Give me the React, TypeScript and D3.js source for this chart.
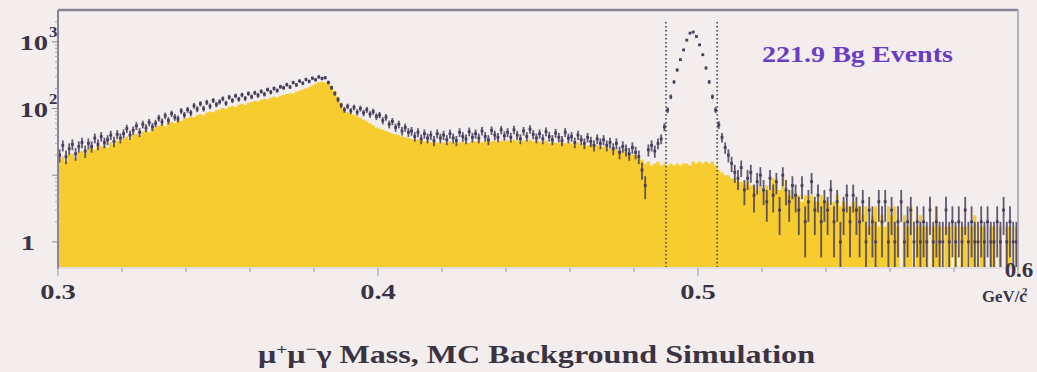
import React from "react";
import * as d3 from "d3";

const W = 1037;
const H = 372;

// Invariant mass histogram: 0.300 – 0.600 GeV/c², bins of 0.001
const massMin = 0.3;
const massMax = 0.6;
const binWidth = 0.001;

// MC background (yellow histogram), one value per bin
const bgCounts = [
  17, 19, 16, 20, 21, 18, 22, 23, 21, 25,
  26, 24, 28, 27, 30, 26, 31, 29, 33, 32,
  35, 38, 34, 40, 42, 39, 45, 47, 44, 50,
  52, 55, 58, 54, 61, 63, 60, 67, 65, 70,
  72, 76, 74, 80, 83, 79, 87, 90, 88, 95,
  97, 102, 99, 106, 110, 105, 114, 118, 113, 122,
  125, 130, 127, 134, 140, 136, 145, 150, 146, 155,
  160, 165, 170, 168, 178, 185, 192, 200, 210, 222,
  235, 248, 252, 245, 238, 215, 185, 150, 120, 95,
  88, 84, 80, 76, 72, 68, 64, 60, 56, 52,
  50, 48, 46, 44, 42, 41, 40, 38, 37, 36,
  35, 34, 34, 33, 32, 33, 31, 32, 31, 30,
  31, 30, 32, 31, 30, 31, 32, 30, 31, 32,
  32, 33, 31, 32, 34, 32, 33, 31, 33, 32,
  33, 32, 34, 33, 31, 33, 32, 34, 32, 33,
  32, 31, 33, 30, 32, 31, 30, 32, 30, 31,
  30, 29, 31, 28, 29, 28, 30, 27, 28, 27,
  27, 26, 25, 26, 24, 23, 24, 22, 21, 20,
  20, 18, 17, 15, 16, 14, 15, 16, 14, 15,
  14, 15, 14, 15, 14, 15, 15, 14, 16, 15,
  16, 15, 16, 15, 16, 14, 12, 11, 10, 10,
  9, 9, 8, 8, 7, 8, 7, 7, 6, 7,
  6, 7, 6, 9, 8, 6, 9, 6, 5, 6,
  5, 5, 4, 5, 4, 5, 4, 4, 5, 4,
  4, 3.4, 4, 5, 3.4, 4, 3.4, 3.4, 4, 3.4,
  3.4, 2.5, 3.4, 1.7, 2.5, 3.4, 1.7, 2.5, 1.7, 3.4,
  2.5, 3.4, 1.7, 0, 2.5, 1.7, 3.4, 0, 1.7, 2.5,
  1.7, 1.7, 0, 1.7, 3.4, 1.7, 0, 1.7, 1.7, 0,
  1.7, 0, 1.7, 1.7, 0, 1.7, 2.5, 0, 1.7, 1.7,
  0, 1.7, 1.7, 0, 1.7, 0, 1.7, 1.7, 0, 1.7,
];

// Simulated events (points with error bars), one value per bin
const dataCounts = [
  20, 28, 19, 25, 29, 21, 27, 31, 23, 30,
  27, 36, 29, 38, 31, 34, 40, 32, 41, 36,
  42, 50, 40, 47, 55, 44, 58, 51, 62, 53,
  60, 72, 63, 78, 66, 84, 74, 70, 92, 80,
  96, 86, 110, 98, 118, 100, 124, 108, 132, 115,
  126, 140, 120, 148, 132, 155, 138, 160, 142, 168,
  150, 172, 158, 180, 164, 192, 176, 200, 186, 212,
  205, 228, 210, 245, 226, 258, 240, 272, 255, 285,
  270, 298, 282, 290, 246, 205, 168, 136, 112, 96,
  108, 92, 104, 88, 100, 86, 96, 82, 90, 76,
  80, 66, 74, 58, 64, 52, 58, 46, 52, 44,
  46, 38, 44, 35, 42, 36, 40, 33, 42, 36,
  40, 34, 42, 36, 33, 44, 38, 35, 45, 37,
  42, 36, 46, 38, 34, 47, 40, 37, 48, 39,
  44, 37, 48, 40, 35, 46, 38, 49, 41, 36,
  42, 35, 45, 38, 34, 43, 37, 33, 44, 36,
  38, 31, 40, 34, 30, 37, 32, 28, 35, 30,
  34, 28, 31, 25, 30, 22, 27, 24, 21, 26,
  22, 19, 12, 7, 24, 28, 23, 30, 35, 53,
  95, 150, 250, 378, 540, 755, 1060, 1350, 1400, 1200,
  900, 640, 405, 250, 150, 95, 57, 37, 26, 20,
  15, 11, 9, 13, 6, 9, 11, 5, 8, 10,
  6, 4, 9, 5, 8, 3, 10, 6, 4, 7,
  5, 3, 7, 2, 4, 8, 3, 5, 2, 4,
  3, 6, 2, 4, 1, 3, 5, 2, 5, 3,
  2, 4, 1, 3, 2, 1, 4, 2, 4, 1,
  3, 1, 2, 4, 1, 2, 3, 1, 2, 1,
  2, 1, 3, 1, 2, 1, 1, 3, 1, 2,
  1, 2, 1, 3, 1, 2, 1, 1, 2, 1,
  2, 1, 1, 2, 1, 3, 1, 2, 1, 1,
];

const xLabelValues = [0.3, 0.4, 0.5];
const xLabelTexts = ["0.3", "0.4", "0.5"];
const xEndLabel = "0.6";
const xTickValues = [0.3, 0.32, 0.34, 0.36, 0.38, 0.4, 0.42, 0.44, 0.46, 0.48, 0.5, 0.52, 0.54, 0.56, 0.58, 0.6];
const yLabelValues = [1, 100, 1000];
const yLabelBases = ["1", "10", "10"];
const yLabelExps = ["", "2", "3"];
const yDecades = [1, 10, 100, 1000];
const signalWindow = [0.49, 0.506];
const legendLabel = "221.9 Bg Events";
const unitLabel = "GeV/c";
const unitExp = "2";

const BG = "#f3eeed";
const YELLOW = "#f7cc2e";
const POINT = "#463d5c";
const TEXT = "#3a3344";
const FRAME = "#8a8296";
const FONT = "'Liberation Serif', 'DejaVu Serif', serif";

const left = 58, right = 1018, top = 10, bottom = 267;

function STxt({ x, y, size, sx = 1.3, anchor = "start", fill = TEXT, children }: any) {
  return (
    <text
      transform={`translate(${x},${y}) scale(${sx},1)`}
      textAnchor={anchor}
      fontFamily={FONT}
      fontWeight="bold"
      fontSize={size}
      fill={fill}
    >
      {children}
    </text>
  );
}

export default function App() {
  const x = d3.scaleLinear().domain([massMin, massMax]).range([left, right]);
  const y = d3.scaleLog().domain([0.42, 3000]).range([bottom, top]).clamp(true);

  const binStarts = bgCounts.map((_, i) => massMin + i * binWidth);

  // yellow step histogram
  const pts: [number, number][] = [[x(massMin), bottom]];
  bgCounts.forEach((v, i) => {
    const yy = v > 0 ? y(v) : bottom;
    pts.push([x(binStarts[i]), yy]);
    pts.push([x(binStarts[i] + binWidth), yy]);
  });
  pts.push([x(massMax), bottom]);
  const areaPath = (d3.line()(pts) || "") + "Z";

  // minor log ticks
  const yMinor: number[] = [];
  yDecades.forEach((d) => {
    for (let k = 2; k <= 9; k++) {
      const v = d * k;
      if (v < 3000) yMinor.push(v);
    }
  });

  return (
    <svg
      width={W}
      height={H}
      style={{ position: "absolute", left: 0, top: 0, display: "block" }}
    >
      <rect x={0} y={0} width={W} height={H} fill={BG} />
      <clipPath id="plotClip">
        <rect x={left} y={top} width={right - left} height={bottom - top} />
      </clipPath>

      <g clipPath="url(#plotClip)">
        <path d={areaPath} fill={YELLOW} />
        {dataCounts.map((n, i) => {
          if (n <= 0) return null;
          const cx = x(binStarts[i] + binWidth / 2);
          const e = Math.sqrt(n);
          const y1 = y(n + e);
          const y2 = n - e > 0.42 ? y(n - e) : bottom;
          return (
            <g key={i}>
              <line x1={cx} x2={cx} y1={y1} y2={y2} stroke={POINT} strokeWidth={1.8} strokeOpacity={0.85} />
              <rect x={cx - 1.4} y={y(n) - 1.4} width={2.8} height={2.8} fill={POINT} />
            </g>
          );
        })}
      </g>

      {signalWindow.map((m, i) => (
        <line
          key={i}
          x1={x(m)}
          x2={x(m)}
          y1={22}
          y2={bottom}
          stroke="#45404f"
          strokeWidth={1.6}
          strokeDasharray="1.6,2.4"
        />
      ))}

      {/* frame */}
      <line x1={left} x2={right} y1={top} y2={top} stroke={FRAME} strokeWidth={2.5} />
      <line x1={left} x2={left} y1={top} y2={bottom + 2} stroke={FRAME} strokeWidth={2} />
      <line x1={right} x2={right} y1={top} y2={bottom + 2} stroke="#a39caa" strokeWidth={1.5} />
      <line x1={left} x2={right} y1={bottom + 1} y2={bottom + 1} stroke="#d3cbd0" strokeWidth={1} />

      {/* x ticks */}
      {xTickValues.map((t, i) => {
        const major = Math.abs((t * 10) % 1) < 1e-6 || Math.abs((t * 10) % 1 - 1) < 1e-6;
        return (
          <line
            key={i}
            x1={x(t)}
            x2={x(t)}
            y1={bottom + 1}
            y2={bottom + (major ? 9 : 5)}
            stroke="#9a93a2"
            strokeWidth={1}
          />
        );
      })}

      {/* y ticks */}
      {yDecades.map((d, i) => (
        <line key={"M" + i} x1={left - 6} x2={left} y1={y(d)} y2={y(d)} stroke="#8e8699" strokeWidth={1} />
      ))}
      {yMinor.map((d, i) => (
        <line key={"m" + i} x1={left - 3} x2={left} y1={y(d)} y2={y(d)} stroke="#a8a1ad" strokeWidth={1} />
      ))}

      {/* y labels */}
      {yLabelValues.map((v, i) => (
        <g key={i}>
          <STxt x={yLabelExps[i] ? 48 : 35} y={y(v) + 8} size={22} anchor="end">
            {yLabelBases[i]}
          </STxt>
          {yLabelExps[i] && (
            <STxt x={49} y={y(v) - 5} size={14} sx={1.2}>
              {yLabelExps[i]}
            </STxt>
          )}
        </g>
      ))}

      {/* x labels */}
      {xLabelValues.map((v, i) => (
        <STxt key={i} x={x(v)} y={299} size={22} anchor="middle">
          {xLabelTexts[i]}
        </STxt>
      ))}
      <STxt x={1019} y={277} size={20} sx={1.15} anchor="middle">
        {xEndLabel}
      </STxt>
      <STxt x={982} y={302} size={16} sx={1.05}>
        {unitLabel}
      </STxt>
      <STxt x={1022} y={295} size={10} sx={1.1}>
        {unitExp}
      </STxt>

      {/* legend */}
      <text
        x={762}
        y={62}
        fontFamily={FONT}
        fontWeight="bold"
        fontSize={24}
        fill="#6a3cc6"
        textLength={191}
        lengthAdjust="spacingAndGlyphs"
      >
        {legendLabel}
      </text>

      {/* title */}
      <text
        x={258}
        y={363}
        fontFamily={FONT}
        fontWeight="bold"
        fontSize={25}
        fill={TEXT}
        textLength={557}
        lengthAdjust="spacingAndGlyphs"
      >
        μ<tspan dy={-9} fontSize={15}>+</tspan>
        <tspan dy={9}>μ</tspan>
        <tspan dy={-9} fontSize={15}>−</tspan>
        <tspan dy={9}>γ Mass, MC Background Simulation</tspan>
      </text>
    </svg>
  );
}
